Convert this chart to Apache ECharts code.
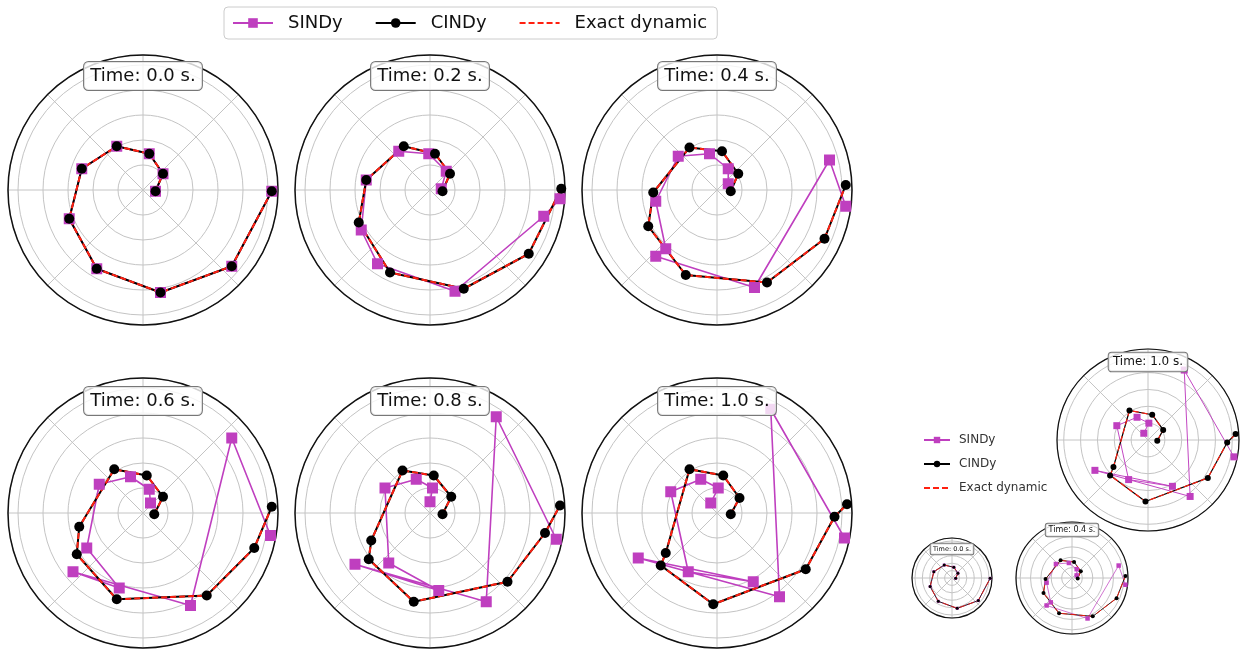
<!DOCTYPE html>
<html>
<head>
<meta charset="utf-8">
<script src="https://cdn.jsdelivr.net/npm/echarts@6/dist/echarts.min.js"></script>
<style>
  html, body { margin: 0; padding: 0; background: #fff; }
  #main { width: 1240px; height: 649px; }
</style>
</head>
<body>
<div id="main"></div>
<script>
// points, as x / y in radius units (rings every 0.2)
var times = ['0.0', '0.2', '0.4', '0.6', '0.8', '1.0'];

var exact_00 = [[0.10, -0.01], [0.16, 0.13], [0.05, 0.29], [-0.21, 0.35], [-0.49, 0.17], [-0.59, -0.23], [-0.37, -0.63], [0.14, -0.82], [0.71, -0.61], [1.03, -0.01]];
var exact_02 = [[0.10, -0.01], [0.16, 0.13], [0.04, 0.29], [-0.21, 0.35], [-0.51, 0.08], [-0.57, -0.26], [-0.32, -0.66], [0.27, -0.79], [0.79, -0.51], [1.05, 0.01]];
var exact_04 = [[0.11, -0.01], [0.17, 0.13], [0.04, 0.31], [-0.22, 0.34], [-0.51, -0.02], [-0.55, -0.29], [-0.25, -0.68], [0.40, -0.74], [0.86, -0.39], [1.03, 0.04]];
var exact_06 = [[0.09, -0.01], [0.16, 0.13], [0.03, 0.30], [-0.23, 0.35], [-0.51, -0.11], [-0.53, -0.33], [-0.21, -0.69], [0.51, -0.66], [0.89, -0.28], [1.03, 0.05]];
var exact_08 = [[0.10, -0.01], [0.17, 0.13], [0.03, 0.30], [-0.22, 0.34], [-0.47, -0.22], [-0.49, -0.37], [-0.13, -0.71], [0.62, -0.55], [0.92, -0.16], [1.04, 0.06]];
var exact_10 = [[0.11, -0.01], [0.18, 0.12], [0.05, 0.30], [-0.22, 0.35], [-0.41, -0.32], [-0.45, -0.42], [-0.03, -0.73], [0.71, -0.45], [0.94, -0.03], [1.04, 0.07]];

var sindy_00 = [[0.10, -0.01], [0.16, 0.13], [0.05, 0.29], [-0.21, 0.35], [-0.49, 0.17], [-0.59, -0.23], [-0.37, -0.63], [0.14, -0.82], [0.71, -0.61], [1.03, -0.01]];
var sindy_02 = [[0.09, 0.01], [0.13, 0.15], [-0.01, 0.29], [-0.25, 0.31], [-0.51, 0.08], [-0.55, -0.32], [-0.42, -0.59], [0.20, -0.81], [0.91, -0.21], [1.04, -0.07]];
var sindy_04 = [[0.09, 0.05], [0.09, 0.17], [-0.06, 0.29], [-0.31, 0.27], [-0.49, -0.09], [-0.41, -0.47], [-0.49, -0.53], [0.30, -0.78], [0.90, 0.24], [1.03, -0.13]];
var sindy_06 = [[0.06, 0.08], [0.05, 0.19], [-0.10, 0.29], [-0.35, 0.23], [-0.45, -0.28], [-0.19, -0.60], [-0.56, -0.47], [0.38, -0.74], [0.71, 0.60], [1.02, -0.18]];
var sindy_08 = [[0.00, 0.09], [0.02, 0.20], [-0.11, 0.27], [-0.36, 0.20], [-0.33, -0.40], [0.07, -0.62], [-0.60, -0.41], [0.45, -0.71], [0.53, 0.77], [1.01, -0.21]];
var sindy_10 = [[-0.05, 0.08], [0.01, 0.20], [-0.13, 0.27], [-0.37, 0.17], [-0.23, -0.47], [0.29, -0.55], [-0.63, -0.36], [0.50, -0.67], [0.43, 0.83], [1.02, -0.20]];

var exact = [exact_00, exact_02, exact_04, exact_06, exact_08, exact_10];
var sindy = [sindy_00, sindy_02, sindy_04, sindy_06, sindy_08, sindy_10];
// CINDy sits right on the exact curve in every panel
var cindy = exact;

var ringTicks = [0.2, 0.4, 0.6, 0.8, 1.0];

// x/y -> [radius, angle in degrees]
function toPolar(pts) {
  return pts.map(function (p) {
    var a = Math.atan2(p[1], p[0]) * 180 / Math.PI;
    if (a < 0) a += 360;
    return [Math.hypot(p[0], p[1]), a];
  });
}

// panel layout: 6 main plots + the small picture on the right
var panels = [
  { t: 0, c: [143, 190], r: 135, ty: 76, fs: 18, sq: 11, ci: 10, lw: 2 },
  { t: 1, c: [430, 190], r: 135, ty: 76, fs: 18, sq: 11, ci: 10, lw: 2 },
  { t: 2, c: [717, 190], r: 135, ty: 76, fs: 18, sq: 11, ci: 10, lw: 2 },
  { t: 3, c: [143, 513], r: 135, ty: 401, fs: 18, sq: 11, ci: 10, lw: 2 },
  { t: 4, c: [430, 513], r: 135, ty: 401, fs: 18, sq: 11, ci: 10, lw: 2 },
  { t: 5, c: [717, 513], r: 135, ty: 401, fs: 18, sq: 11, ci: 10, lw: 2 },
  { t: 5, c: [1148, 440], r: 91, ty: 362, fs: 12, sq: 7, ci: 6, lw: 1.2 },
  { t: 0, c: [952, 578], r: 40, ty: 549, fs: 6.5, sq: 3, ci: 3, lw: 0.8 },
  { t: 2, c: [1072, 578], r: 56, ty: 530, fs: 8, sq: 4.5, ci: 4, lw: 0.9 }
];

var polar = [], angleAxis = [], radiusAxis = [], series = [], graphic = [];

panels.forEach(function (p, i) {
  var big = p.r > 100;
  polar.push({ center: p.c, radius: p.r });
  angleAxis.push({
    polarIndex: i, type: 'value', min: 0, max: 360, interval: 45,
    startAngle: 0, clockwise: false,
    axisLine: { lineStyle: { color: '#111', width: big ? 1.5 : 1.2 } },
    axisTick: { show: false }, axisLabel: { show: false },
    splitLine: { lineStyle: { color: '#c4c4c4', width: 1 } }
  });
  radiusAxis.push({
    polarIndex: i, type: 'value', min: 0, max: 1.08, interval: ringTicks[0],
    axisLine: { show: false }, axisTick: { show: false }, axisLabel: { show: false },
    splitLine: { lineStyle: { color: '#c4c4c4', width: 1 } }
  });
  series.push({
    name: 'SINDy', type: 'line', coordinateSystem: 'polar', polarIndex: i,
    data: toPolar(sindy[p.t]), symbol: 'rect', symbolSize: p.sq,
    lineStyle: { color: '#bf3fbf', width: p.lw * 0.8 }, itemStyle: { color: '#bf3fbf' }
  });
  series.push({
    name: 'CINDy', type: 'line', coordinateSystem: 'polar', polarIndex: i,
    data: toPolar(cindy[p.t]), symbol: 'circle', symbolSize: p.ci,
    lineStyle: { color: '#000', width: p.lw }, itemStyle: { color: '#000' }
  });
  series.push({
    name: 'Exact dynamic', type: 'line', coordinateSystem: 'polar', polarIndex: i,
    data: toPolar(exact[p.t]), symbol: 'none',
    lineStyle: { color: '#ff2010', width: p.lw, type: [6, 3] },
    itemStyle: { color: '#ff2010', opacity: 0 }
  });
  graphic.push({
    type: 'text', x: p.c[0], y: p.ty, z: 100,
    style: {
      text: 'Time: ' + times[p.t] + ' s.',
      align: 'center', verticalAlign: 'middle',
      fontSize: p.fs, fontFamily: 'DejaVu Sans', fill: '#111',
      backgroundColor: 'rgba(255,255,255,0.8)',
      borderColor: '#777', borderWidth: 1, borderRadius: p.fs / 4,
      padding: [p.fs * 0.28, p.fs * 0.35]
    }
  });
});

var names = ['SINDy', 'CINDy', 'Exact dynamic'];

var chart = echarts.init(document.getElementById('main'));
chart.setOption({
  animation: false,
  backgroundColor: '#fff',
  legend: [{
    data: names, left: 224, top: 7,
    padding: [7, 10, 7, 8], itemGap: 32, itemWidth: 40, itemHeight: 12,
    borderColor: '#cccccc', borderWidth: 1, borderRadius: 4,
    textStyle: { fontSize: 18, fontFamily: 'DejaVu Sans', color: '#111', padding: [0, 0, 0, 10] }
  }, {
    data: names, orient: 'vertical', left: 918, top: 429,
    itemGap: 12, itemWidth: 26, itemHeight: 8,
    textStyle: { fontSize: 12, fontFamily: 'DejaVu Sans', color: '#333', padding: [0, 0, 0, 4] }
  }],
  polar: polar,
  angleAxis: angleAxis,
  radiusAxis: radiusAxis,
  graphic: graphic,
  series: series
});
</script>
</body>
</html>
